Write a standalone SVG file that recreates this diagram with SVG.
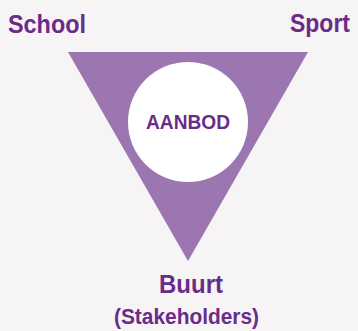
<svg xmlns="http://www.w3.org/2000/svg" width="358" height="331" viewBox="0 0 358 331">
<style>
.lbl{font-family:"Liberation Sans",Arial,sans-serif;font-weight:bold;fill:#6a2c88}
</style>
<rect width="358" height="331" fill="#f7f4f6"/>
<g id="triangle">
<polygon points="68,52 308,52 188,261" fill="#9b76b0"/>
</g>
<g id="aanbod">
<circle cx="188" cy="122" r="60" fill="#ffffff"/>
<text class="lbl" x="188" y="129" font-size="20" text-anchor="middle" textLength="84" lengthAdjust="spacingAndGlyphs">AANBOD</text>
</g>
<g id="school">
<text class="lbl" x="8" y="33" font-size="26" textLength="78" lengthAdjust="spacingAndGlyphs">School</text>
</g>
<g id="sport">
<text class="lbl" x="290" y="32" font-size="26" textLength="60" lengthAdjust="spacingAndGlyphs">Sport</text>
</g>
<g id="buurt">
<text class="lbl" x="191" y="293" font-size="26" text-anchor="middle" textLength="64" lengthAdjust="spacingAndGlyphs">Buurt</text>
<text class="lbl" x="186.5" y="324" font-size="22" text-anchor="middle" textLength="145" lengthAdjust="spacingAndGlyphs">(Stakeholders)</text>
</g>
<g id="connectors"/>
</svg>
